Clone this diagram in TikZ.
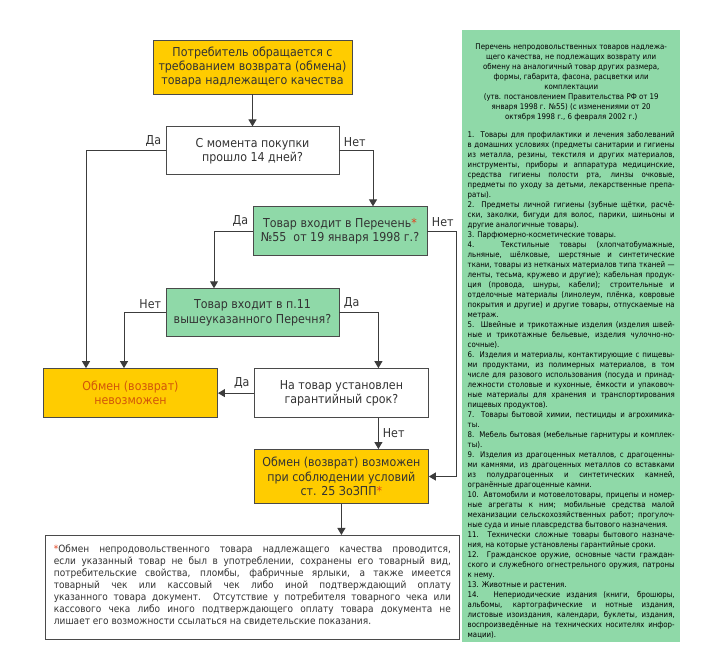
\documentclass[tikz,border=0pt]{standalone}
\usepackage{fontspec}
\setmainfont[FakeStretch=0.9]{DejaVu Sans}
\usepackage{xcolor}
\usepackage{tikz}
\usetikzlibrary{arrows.meta,positioning}
\definecolor{VzYellow}{HTML}{FFCC00}
\definecolor{VzGreen}{HTML}{8FD9A8}
\definecolor{VzEdge}{HTML}{4A4A4A}
\definecolor{VzLine}{HTML}{3C3C3C}
\definecolor{VzText}{HTML}{333333}
\definecolor{VzStar}{HTML}{E2401C}
\definecolor{VzDeny}{HTML}{D2560A}
\hyphenpenalty=10000
\exhyphenpenalty=10000
\tolerance=10000
\newcommand{\vzstar}{\textcolor{VzStar}{*}}
\tikzset{
  vzbox/.style={
    draw=VzEdge,
    line width=0.9pt,
    align=center,
    inner sep=2pt,
    text=VzText,
    minimum width=174pt,
    minimum height=49pt,
    font=\fontsize{12.3}{14.2}\selectfont
  },
  vzyellow/.style={vzbox, fill=VzYellow},
  vzgreen/.style={vzbox, fill=VzGreen},
  vzwhite/.style={vzbox, fill=white},
  vzflow/.style={-{Triangle[length=7pt,width=8pt]}, line width=1pt, draw=VzLine},
  vzlabel/.style={font=\fontsize{12.3}{14}\selectfont, text=VzText, inner sep=4pt},
  vznote/.style={
    draw=VzEdge,
    line width=0.9pt,
    fill=white,
    text=VzText,
    text width=397pt,
    inner xsep=8.5pt,
    inner ysep=4pt,
    align=justify,
    font=\fontsize{10}{12}\selectfont
  },
  vzlist/.style={
    fill=VzGreen,
    text=black,
    text width=207pt,
    inner xsep=5.5pt,
    inner ysep=4pt,
    align=justify,
    font=\fontsize{7.8}{10}\selectfont
  }
}
\begin{document}
\begin{tikzpicture}[x=1pt, y=-1pt, node distance=31pt]
  \useasboundingbox (0,0) rectangle (713,670);
  \node[vzyellow, minimum width=199pt, minimum height=54pt] (claim) at (252.5,67)
    {Потребитель обращается с\\требованием возврата (обмена)\\товара надлежащего качества};
  \node[vzwhite, below=32pt of claim, minimum width=173pt, minimum height=48pt] (days)
    {С момента покупки\\прошло 14 дней?};
  \node[vzgreen, below=of days, xshift=87.5pt] (list55)
    {Товар входит в Перечень\vzstar\\№55~ от 19 января 1998 г.?};
  \node[vzgreen, below=32pt of list55, xshift=-87.5pt, minimum width=173pt, minimum height=48pt] (item11)
    {Товар входит в п.11\\вышеуказанного Перечня?};
  \node[vzyellow, below=of item11, xshift=-122pt, text=VzDeny] (deny)
    {Обмен (возврат)\\невозможен};
  \node[vzwhite, right=36pt of deny] (warranty)
    {На товар установлен\\гарантийный срок?};
  \node[vzyellow, below=of warranty, minimum height=54pt] (allow)
    {Обмен (возврат) возможен\\при соблюдении условий\\ст. 25 ЗоЗПП\vzstar};
  \node[vznote, below=of allow, anchor=north, xshift=-89pt] (note)
    {\rule{0pt}{13pt}\vzstar Обмен непродовольственного товара надлежащего качества проводится,\linebreak
     если указанный товар не был в употреблении, сохранены его товарный вид,\linebreak
     потребительские свойства, пломбы, фабричные ярлыки, а также имеется\linebreak
     товарный чек или кассовый чек либо иной подтверждающий оплату\linebreak
     указанного товара документ. Отсутствие у потребителя товарного чека или\linebreak
     кассового чека либо иного подтверждающего оплату товара документа не\linebreak
     лишает его возможности ссылаться на свидетельские показания.\rule[-11pt]{0pt}{11pt}};
  \node[vzlist, anchor=north west] (goods) at (462,30)
    {{\centering\rule{0pt}{15pt}Перечень непродовольственных товаров надлежа-\\
      щего качества, не подлежащих возврату или\\
      обмену на аналогичный товар других размера,\\
      формы, габарита, фасона, расцветки или\\
      комплектации\\
      (утв. постановлением Правительства РФ от 19\\
      января 1998 г. №55) (с изменениями от 20\\
      октября 1998 г., 6 февраля 2002 г.)\par}
     \vspace{8pt}
     1. Товары для профилактики и лечения заболеваний\linebreak
     в домашних условиях (предметы санитарии и гигиены\linebreak
     из металла, резины, текстиля и других материалов,\linebreak
     инструменты, приборы и аппаратура медицинские,\linebreak
     средства гигиены полости рта, линзы очковые,\linebreak
     предметы по уходу за детьми, лекарственные препа-\linebreak
     раты).\par
     2. Предметы личной гигиены (зубные щётки, расчё-\linebreak
     ски, заколки, бигуди для волос, парики, шиньоны и\linebreak
     другие аналогичные товары).\par
     3. Парфюмерно-косметические товары.\par
     4. Текстильные товары (хлопчатобумажные,\linebreak
     льняные, шёлковые, шерстяные и синтетические\linebreak
     ткани, товары из нетканых материалов типа тканей —\linebreak
     ленты, тесьма, кружево и другие); кабельная продук-\linebreak
     ция (провода, шнуры, кабели); строительные и\linebreak
     отделочные материалы (линолеум, плёнка, ковровые\linebreak
     покрытия и другие) и другие товары, отпускаемые на\linebreak
     метраж.\par
     5. Швейные и трикотажные изделия (изделия швей-\linebreak
     ные и трикотажные бельевые, изделия чулочно-но-\linebreak
     сочные).\par
     6. Изделия и материалы, контактирующие с пищевы-\linebreak
     ми продуктами, из полимерных материалов, в том\linebreak
     числе для разового использования (посуда и принад-\linebreak
     лежности столовые и кухонные, ёмкости и упаковоч-\linebreak
     ные материалы для хранения и транспортирования\linebreak
     пищевых продуктов).\par
     7. Товары бытовой химии, пестициды и агрохимика-\linebreak
     ты.\par
     8. Мебель бытовая (мебельные гарнитуры и комплек-\linebreak
     ты).\par
     9. Изделия из драгоценных металлов, с драгоценны-\linebreak
     ми камнями, из драгоценных металлов со вставками\linebreak
     из полудрагоценных и синтетических камней,\linebreak
     огранённые драгоценные камни.\par
     10. Автомобили и мотовелотовары, прицепы и номер-\linebreak
     ные агрегаты к ним; мобильные средства малой\linebreak
     механизации сельскохозяйственных работ; прогулоч-\linebreak
     ные суда и иные плавсредства бытового назначения.\par
     11. Технически сложные товары бытового назначе-\linebreak
     ния, на которые установлены гарантийные сроки.\par
     12. Гражданское оружие, основные части граждан-\linebreak
     ского и служебного огнестрельного оружия, патроны\linebreak
     к нему.\par
     13. Животные и растения.\par
     14. Непериодические издания (книги, брошюры,\linebreak
     альбомы, картографические и нотные издания,\linebreak
     листовые изоиздания, календари, буклеты, издания,\linebreak
     воспроизведённые на технических носителях инфор-\linebreak
     мации).};
  \draw[vzflow] (claim) -- (days);
  \draw[vzflow] (days.west) node[vzlabel, above left]{Да} -| ([xshift=-44.5pt]deny.north);
  \draw[vzflow] (days.east) node[vzlabel, above right]{Нет} -| ([xshift=33pt]list55.north);
  \draw[vzflow] (list55.west) node[vzlabel, above left]{Да} -| ([xshift=-38.5pt]item11.north);
  \draw[vzflow] (list55.east) node[vzlabel, above right]{Нет} -- ++(29,0) |- (allow.east);
  \draw[vzflow] (item11.west) node[vzlabel, above left]{Нет} -| ([xshift=-6.5pt]deny.north);
  \draw[vzflow] (item11.east) node[vzlabel, above right]{Да} -| ([xshift=37pt]warranty.north);
  \draw[vzflow] (warranty.west) node[vzlabel, above left]{Да} -- (deny.east);
  \draw[vzflow] ([xshift=37pt]warranty.south) -- node[vzlabel, right]{Нет} ([xshift=37pt]allow.north);
  \draw[vzflow] (allow.south) -- (allow.south |- note.north);
\end{tikzpicture}
\end{document}
